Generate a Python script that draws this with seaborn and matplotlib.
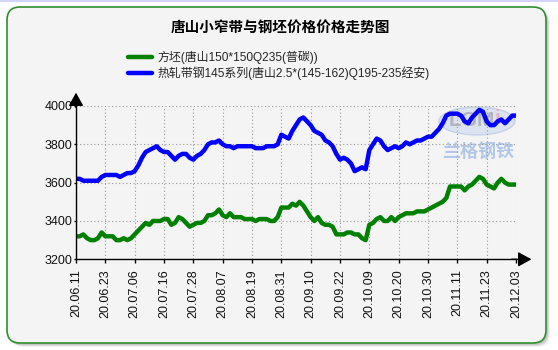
import matplotlib
matplotlib.use("Agg")
import matplotlib.pyplot as plt
import numpy as np
import pandas as pd
import seaborn as sns
from matplotlib.patches import FancyBboxPatch, Rectangle, Ellipse
from matplotlib.transforms import IdentityTransform

# ---- data -------------------------------------------------------------
title = "唐山小窄带与钢坯价格价格走势图"
series_names = ["方坯(唐山150*150Q235(普碳))",
                "热轧带钢145系列(唐山2.5*(145-162)Q195-235经安)"]
tick_labels = ["20.06.11", "20.06.23", "20.07.06", "20.07.16", "20.07.28",
               "20.08.07", "20.08.19", "20.08.31", "20.09.10", "20.09.22",
               "20.10.09", "20.10.20", "20.10.30", "20.11.11", "20.11.23",
               "20.12.03"]

billet = [3320, 3320, 3330, 3310, 3300, 3300, 3310, 3340, 3320, 3320,
          3320, 3300, 3300, 3310, 3300, 3310, 3330, 3350, 3370, 3390,
          3380, 3400, 3400, 3400, 3410, 3410, 3380, 3390, 3420, 3410,
          3390, 3370, 3380, 3390, 3390, 3400, 3430, 3430, 3440, 3460,
          3430, 3420, 3440, 3420, 3420, 3420, 3410, 3410, 3410, 3400,
          3410, 3410, 3410, 3400, 3400, 3420, 3470, 3470, 3470, 3490,
          3480, 3500, 3480, 3450, 3420, 3400, 3420, 3390, 3380, 3380,
          3370, 3330, 3330, 3330, 3340, 3340, 3330, 3330, 3310, 3300,
          3380, 3390, 3410, 3420, 3400, 3400, 3420, 3400, 3420, 3430,
          3440, 3440, 3440, 3450, 3450, 3450, 3460, 3470, 3480, 3490,
          3500, 3520, 3580, 3580, 3580, 3580, 3560, 3580, 3590, 3610,
          3630, 3620, 3590, 3580, 3570, 3600, 3620, 3600, 3590, 3590,
          3590]

strip = [3620, 3620, 3610, 3610, 3610, 3610, 3610, 3630, 3640, 3640,
         3640, 3640, 3630, 3640, 3650, 3650, 3660, 3690, 3730, 3760,
         3770, 3780, 3790, 3770, 3760, 3760, 3740, 3720, 3740, 3750,
         3750, 3730, 3720, 3740, 3750, 3770, 3800, 3810, 3810, 3820,
         3800, 3790, 3790, 3780, 3790, 3790, 3790, 3790, 3790, 3780,
         3780, 3780, 3790, 3790, 3790, 3800, 3850, 3840, 3830, 3870,
         3900, 3930, 3940, 3920, 3900, 3870, 3860, 3850, 3820, 3810,
         3790, 3750, 3720, 3730, 3720, 3700, 3660, 3670, 3680, 3670,
         3770, 3800, 3830, 3820, 3790, 3770, 3780, 3790, 3780, 3790,
         3810, 3800, 3810, 3820, 3820, 3830, 3840, 3840, 3860, 3880,
         3910, 3950, 3960, 3960, 3960, 3950, 3920, 3910, 3940, 3960,
         3980, 3970, 3920, 3900, 3900, 3920, 3930, 3910, 3930, 3950,
         3950]

y_ticks = [3200, 3400, 3600, 3800, 4000]
tick_step = 8

df = pd.DataFrame({
    "idx": list(range(len(billet))) + list(range(len(strip))),
    "price": billet + strip,
    "series": [series_names[0]] * len(billet) + [series_names[1]] * len(strip),
})

# ---- style ------------------------------------------------------------
sns.set_theme(style="white")
plt.rcParams["font.family"] = ["Liberation Sans", "Noto Sans CJK SC", "DejaVu Sans"]

W, H = 558, 350
fig = plt.figure(figsize=(W / 100, H / 100), dpi=100)
fig.patch.set_facecolor("white")
px = IdentityTransform()

# thin lavender strip across the top
fig.add_artist(Rectangle((0, H - 2), W, 2, transform=px, facecolor="#d4d4fb",
                         edgecolor="none", zorder=-3))
# drop shadow and rounded panel
for off, a in [(4, 0.10), (3, 0.16), (2, 0.22)]:
    fig.add_artist(FancyBboxPatch((7 + off, 7 - off), 539, 336,
                                  boxstyle="round,pad=0,rounding_size=13",
                                  transform=px, facecolor="#777777",
                                  edgecolor="none", alpha=a, zorder=-2.5))
fig.add_artist(FancyBboxPatch((7, 7), 539, 336,
                              boxstyle="round,pad=0,rounding_size=13",
                              transform=px, facecolor="#f4f4f4",
                              edgecolor="#2f8f2f", linewidth=1.2, zorder=-2))

# watermark
fig.add_artist(Ellipse((477, H - 121), 76, 28, transform=px,
                       facecolor="#c8d6ef", edgecolor="#a9bde2",
                       linewidth=1, alpha=0.55, zorder=-1.5))
fig.text(472, H - 121, "LGM", transform=px, ha="center", va="center",
         fontsize=15, fontweight="bold", color="#a9a9b0", alpha=0.8,
         zorder=-1.4)
fig.text(497, H - 119, "i", transform=px, ha="center", va="center",
         fontsize=15, fontweight="bold", color="#efa3b3", alpha=0.8,
         zorder=-1.4)
fig.text(478, H - 152, "兰格钢铁", transform=px, ha="center", va="center",
         fontsize=13, fontweight="bold", color="#b3c7e7",
         family=["Noto Sans CJK SC"], zorder=-1.4)

# ---- axes -------------------------------------------------------------
x0, x1, ytop, ybot = 76, 516, 106, 259.3
ax = fig.add_axes([x0 / W, (H - ybot) / H, (x1 - x0) / W, (ybot - ytop) / H])
ax.set_facecolor("none")

sns.lineplot(data=df, x="idx", y="price", hue="series",
             hue_order=series_names,
             palette={series_names[0]: "#008000", series_names[1]: "#0000ff"},
             linewidth=3.2, ax=ax, zorder=3)
for ln in ax.get_lines():
    ln.set_solid_joinstyle("round")
    ln.set_solid_capstyle("round")

ax.set_xlim(0, len(billet) - 1)
ax.set_ylim(y_ticks[0], y_ticks[-1])
ax.set_xticks(range(0, len(billet), tick_step))
ax.set_xticklabels(tick_labels, rotation=90)
ax.set_yticks(y_ticks)
ax.set_yticklabels([str(v) for v in y_ticks])
ax.set_xlabel("")
ax.set_ylabel("")

ax.grid(True, color="#9a9a9a", linestyle=(0, (1, 2.2)), linewidth=0.8)
for s in ("top", "right"):
    ax.spines[s].set_visible(False)
for s in ("left", "bottom"):
    ax.spines[s].set_color("black")
    ax.spines[s].set_linewidth(1.0)
    ax.spines[s].set_zorder(4)

ax.tick_params(axis="x", bottom=True, length=3, width=1, color="black",
               pad=4, labelsize=9, labelcolor="#111111")
ax.tick_params(axis="y", left=True, length=1.5, width=1, color="black",
               pad=1, labelsize=9, labelcolor="#111111")

# arrow heads at the ends of both axes
arrow = dict(arrowstyle="-|>,head_length=0.45,head_width=0.25",
             color="black", lw=1, mutation_scale=18, shrinkA=0, shrinkB=0)
ax.annotate("", xy=(0, 1.087), xytext=(0, 0.99), xycoords="axes fraction",
            arrowprops=arrow, annotation_clip=False)
ax.annotate("", xy=(1.035, 0), xytext=(0.99, 0), xycoords="axes fraction",
            arrowprops=arrow, annotation_clip=False)

# legend
handles, labels = ax.get_legend_handles_labels()
leg = ax.legend(handles, labels, loc="upper left",
                bbox_to_anchor=(128, H - 51), bbox_transform=px,
                frameon=False, fontsize=8.6, handlelength=2.0,
                handletextpad=0.5, labelspacing=0.2, borderpad=0,
                borderaxespad=0)
for h in leg.legend_handles:
    h.set_linewidth(3.2)

# title
fig.text(280, H - 28, title, transform=px, ha="center", va="center",
         fontsize=10.5, fontweight="bold", color="black")

fig.savefig("out.png", dpi=100)
